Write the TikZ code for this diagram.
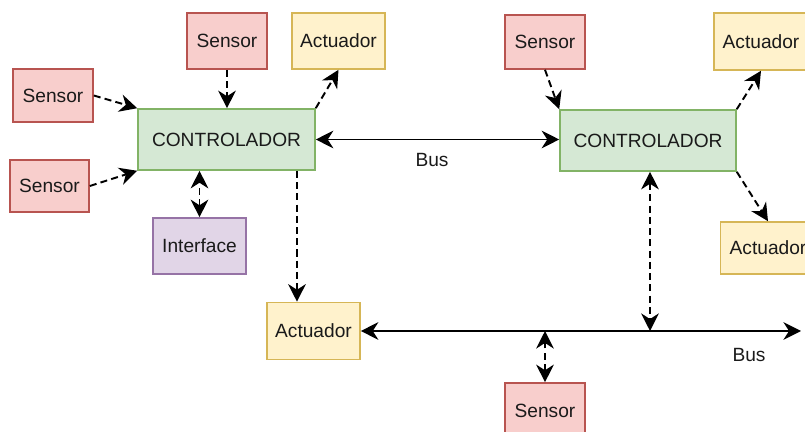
\documentclass[tikz,border=0pt]{standalone}
\usepackage{fontspec}
\setmainfont{Liberation Sans}
\usetikzlibrary{arrows.meta,calc}

\definecolor{redfill}{HTML}{F8CECC}\definecolor{redline}{HTML}{B85450}
\definecolor{yelfill}{HTML}{FFF2CC}\definecolor{yelline}{HTML}{D6B656}
\definecolor{grnfill}{HTML}{D5E8D4}\definecolor{grnline}{HTML}{82B366}
\definecolor{purfill}{HTML}{E1D5E7}\definecolor{purline}{HTML}{9673A6}
\definecolor{ink}{HTML}{1A1A1A}

\tikzset{
  box/.style={draw, line width=0.9pt, inner sep=0pt, text=ink,
    font=\fontsize{10.9}{13}\selectfont},
  sensorbox/.style={box, fill=redfill, draw=redline},
  actbox/.style={box, fill=yelfill, draw=yelline},
  ctrlbox/.style={box, fill=grnfill, draw=grnline},
  ifacebox/.style={box, fill=purfill, draw=purline},
  tip/.tip={Stealth[length=10pt,width=10pt,inset=3.2pt]},
  link/.style={line width=1.1pt, draw=black},
  dashlink/.style={link, dash pattern=on 4pt off 2.4pt, -tip},
  dashboth/.style={link, dash pattern=on 4pt off 2.4pt, tip-tip},
  buslink/.style={link, tip-tip},
  lbl/.style={text=ink, font=\fontsize{10.9}{13}\selectfont, inner sep=0pt},
}

\begin{document}
\begin{tikzpicture}[x=0.02cm, y=-0.02cm]
  \useasboundingbox (0,0) rectangle (805,432);
  \clip (0,0) rectangle (805,432);

  % left controller and its devices
  \node[ctrlbox, minimum width=3.54cm, minimum height=1.22cm] (c1) at (226.5,139.5) {CONTROLADOR};
  \node[sensorbox, minimum width=1.6cm, minimum height=1.12cm] (s1) at (227,41) {Sensor};
  \node[actbox, minimum width=1.86cm, minimum height=1.12cm] (a1) at (338.5,41) {Actuador};
  \node[sensorbox, minimum width=1.6cm, minimum height=1.06cm] (s2) at (53,95.5) {Sensor};
  \node[sensorbox, minimum width=1.58cm, minimum height=1.04cm] (s3) at (49.5,186) {Sensor};
  \node[ifacebox, minimum width=1.86cm, minimum height=1.12cm] (i1) at (199.5,246) {Interface};
  \node[actbox, minimum width=1.86cm, minimum height=1.14cm] (a2) at (313.5,331) {Actuador};

  % right controller and its devices
  \node[ctrlbox, minimum width=3.52cm, minimum height=1.22cm] (c2) at (648,140.5) {CONTROLADOR};
  \node[sensorbox, minimum width=1.6cm, minimum height=1.08cm] (s4) at (545,42) {Sensor};
  \node[actbox, minimum width=1.88cm, minimum height=1.14cm] (a3) at (761,41.5) {Actuador};
  \node[actbox, minimum width=1.9cm, minimum height=1.04cm] (a4) at (768,248) {Actuador};

  % field bus devices
  \node[sensorbox, minimum width=1.6cm, minimum height=1.1cm] (s5) at (545,410.5) {Sensor};
  \coordinate (busend) at (801,331);

  % left controller connections
  \draw[dashlink] (s2.east) -- (c1.north west);
  \draw[dashlink] (s3.east) -- (c1.south west);
  \draw[dashlink] (s1.south) -- (s1.south |- c1.north);
  \draw[dashlink] (c1.north east) -- (a1.south);
  \draw[dashboth] (i1.north) -- (i1.north |- c1.south);
  \coordinate (c1d) at ([xshift=1.41cm]c1.south);
  \draw[dashlink] (c1d) -- (c1d |- a2.north);

  % bus between controllers
  \draw[buslink] (c1.east) -- (c1.east -| c2.west);
  \node[lbl] (bus1) at (432,160) {Bus};

  % right controller connections
  \draw[dashlink] (s4.south) -- (c2.north west);
  \draw[dashlink] (c2.north east) -- (a3.south);
  \draw[dashlink] (c2.south east) -- (a4.north);

  % field bus
  \draw[buslink] (a2.east) -- (busend);
  \draw[dashboth] ([xshift=0.04cm]c2.south) -- ([xshift=0.04cm]c2.south |- busend);
  \draw[dashboth] (s5.north) -- (s5.north |- busend);
  \node[lbl] (bus2) at (749,355) {Bus};
\end{tikzpicture}
\end{document}
